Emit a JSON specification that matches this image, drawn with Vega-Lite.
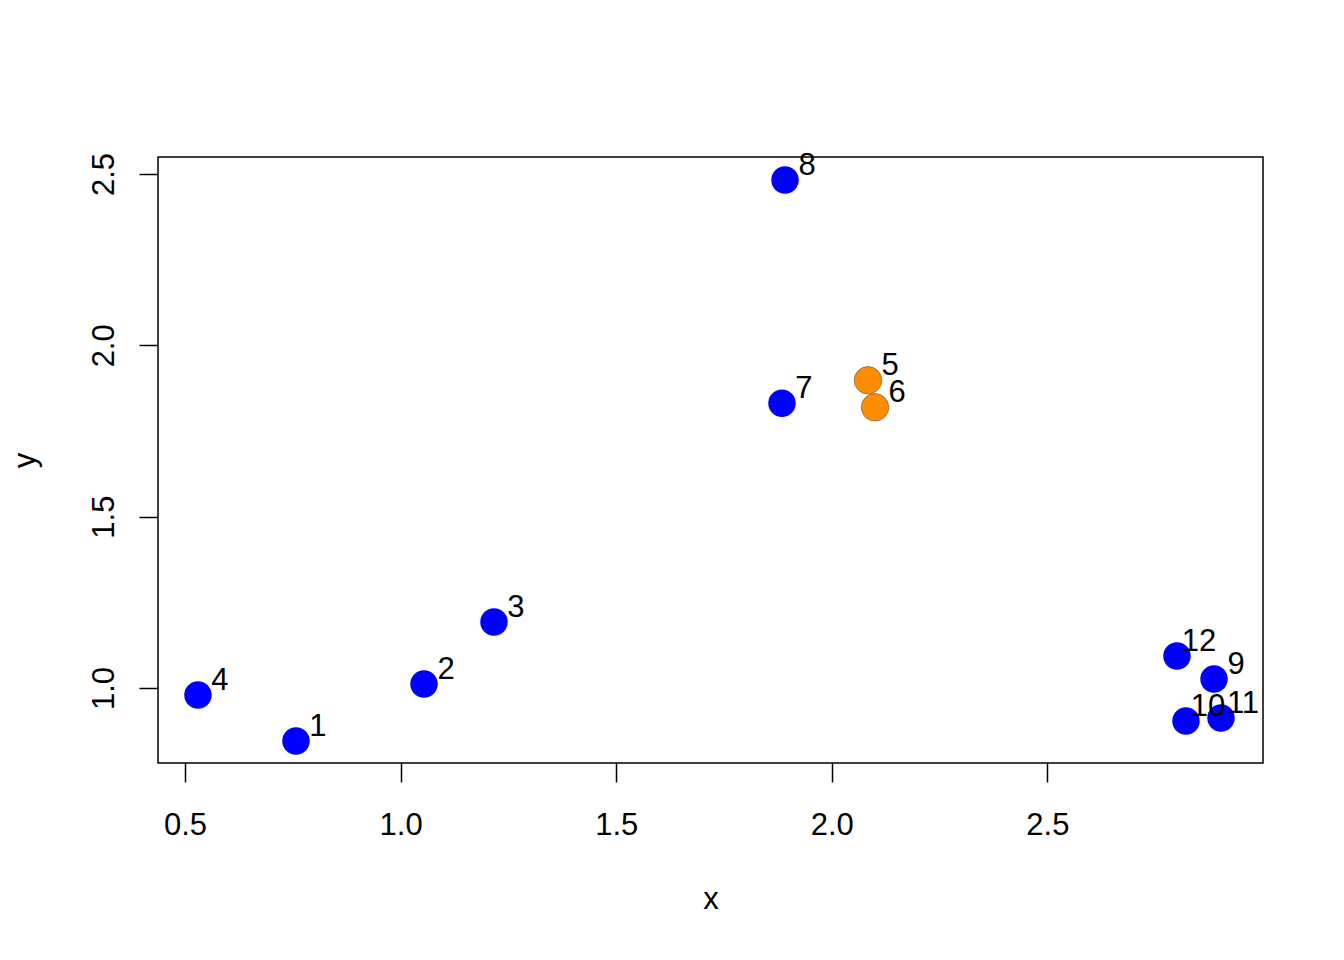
{
  "$schema": "https://vega.github.io/schema/vega-lite/v6.json",
  "width": 1105,
  "height": 606,
  "autosize": {"type": "none"},
  "padding": {"left": 158, "top": 157, "right": 81, "bottom": 197},
  "background": "white",
  "config": {
    "view": {"stroke": "black", "strokeWidth": 1.5},
    "axis": {
      "grid": false,
      "domain": false,
      "ticks": true,
      "tickColor": "black",
      "tickWidth": 1.5,
      "tickSize": 19,
      "labelColor": "black",
      "labelFont": "Liberation Sans",
      "labelFontSize": 31,
      "titleFont": "Liberation Sans",
      "titleFontSize": 31,
      "titleFontWeight": "normal",
      "titleColor": "black",
      "labelOverlap": false,
      "labelFlush": false
    }
  },
  "data": {
    "values": [
      {"id": "1", "x": 0.7574, "y": 0.8453, "group": "a"},
      {"id": "2", "x": 1.0543, "y": 1.0117, "group": "a"},
      {"id": "3", "x": 1.2166, "y": 1.1926, "group": "a"},
      {"id": "4", "x": 0.5301, "y": 0.9796, "group": "a"},
      {"id": "5", "x": 2.0840, "y": 1.8979, "group": "b"},
      {"id": "6", "x": 2.1002, "y": 1.8191, "group": "b"},
      {"id": "7", "x": 1.8845, "y": 1.8307, "group": "a"},
      {"id": "8", "x": 1.8915, "y": 2.4825, "group": "a"},
      {"id": "9", "x": 2.8864, "y": 1.0263, "group": "a"},
      {"id": "10", "x": 2.8214, "y": 0.9037, "group": "a"},
      {"id": "11", "x": 2.9026, "y": 0.9125, "group": "a"},
      {"id": "12", "x": 2.8005, "y": 1.0934, "group": "a"}
    ]
  },
  "encoding": {
    "x": {
      "field": "x",
      "type": "quantitative",
      "scale": {"domain": [0.4374, 3.0], "nice": false, "zero": false},
      "axis": {
        "title": "x",
        "values": [0.5, 1.0, 1.5, 2.0, 2.5],
        "format": ".1f",
        "labelBaseline": "alphabetic",
        "labelPadding": 52,
        "titleBaseline": "alphabetic",
        "titleY": 145
      }
    },
    "y": {
      "field": "y",
      "type": "quantitative",
      "scale": {"domain": [0.7811, 2.5496], "nice": false, "zero": false},
      "axis": {
        "title": "y",
        "values": [1.0, 1.5, 2.0, 2.5],
        "format": ".1f",
        "labelAngle": -90,
        "labelAlign": "center",
        "labelBaseline": "alphabetic",
        "labelPadding": 26,
        "titleAngle": -90,
        "titleBaseline": "alphabetic",
        "titleAlign": "center",
        "titleX": -124,
        "titleY": 303
      }
    }
  },
  "layer": [
    {
      "mark": {"type": "point", "filled": true, "size": 755, "opacity": 1, "shape": "circle"},
      "encoding": {
        "color": {
          "field": "group",
          "type": "nominal",
          "scale": {"domain": ["a", "b"], "range": ["#0000FF", "#FF8C00"]},
          "legend": null
        },
        "stroke": {
          "condition": {"test": "datum.group == 'b'", "value": "#8a6a4a"},
          "value": null
        },
        "strokeWidth": {"value": 0.8}
      }
    },
    {
      "mark": {
        "type": "text",
        "dx": 22,
        "dy": -14,
        "align": "center",
        "baseline": "middle",
        "font": "Liberation Sans",
        "fontSize": 31,
        "color": "black"
      },
      "encoding": {
        "text": {"field": "id", "type": "nominal"}
      }
    }
  ]
}
